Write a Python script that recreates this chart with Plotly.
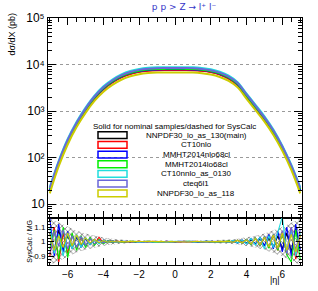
import plotly.graph_objects as go

# ---------------- data ----------------
eta = [-7.0, -6.5, -6.0, -5.5, -5.0, -4.5, -4.0, -3.5, -3.0, -2.5, -2.0, -1.5, -1.0, -0.5, 0.0,
       0.5, 1.0, 1.5, 2.0, 2.5, 3.0, 3.5, 4.0, 4.5, 5.0, 5.5, 6.0, 6.5, 7.0]

pdf_names = ["NNPDF30_lo_as_130(main)", "CT10nlo", "MMHT2014nlo68cl", "MMHT2014lo68cl",
             "CT10nnlo_as_0130", "cteq6l1", "NNPDF30_lo_as_118"]
pdf_colors = ["#000000", "#ff0000", "#0000ff", "#00ee00", "#22dddd", "#6a66d8", "#cccc00"]

xs_nnpdf130 = [20, 75, 220, 520, 1050, 1900, 3000, 4200, 5400, 6400, 7100, 7500, 7700, 7750, 7750,
               7750, 7700, 7450, 7000, 6200, 5100, 3700, 2100, 1200, 680, 350, 160, 62, 20]
xs_ct10nlo = [20, 74, 216, 510, 1030, 1860, 2940, 4120, 5290, 6270, 6960, 7350, 7550, 7600, 7600,
              7600, 7550, 7300, 6860, 6080, 5000, 3630, 2060, 1180, 670, 343, 157, 61, 20]
xs_mmht_nlo = [20, 76, 224, 530, 1070, 1940, 3060, 4280, 5510, 6530, 7240, 7650, 7850, 7900, 7900,
               7900, 7850, 7600, 7140, 6320, 5200, 3770, 2140, 1220, 690, 357, 163, 63, 20]
xs_mmht_lo = [21, 78, 229, 540, 1090, 1980, 3120, 4370, 5620, 6660, 7380, 7800, 8010, 8060, 8060,
              8060, 8010, 7750, 7280, 6450, 5300, 3850, 2180, 1250, 710, 364, 166, 64, 21]
xs_ct10nnlo = [23, 85, 250, 590, 1190, 2150, 3390, 4750, 6100, 7230, 8020, 8480, 8700, 8760, 8760,
               8760, 8700, 8420, 7910, 7010, 5760, 4180, 2370, 1360, 770, 400, 180, 70, 23]
xs_cteq6l1 = [22, 81, 238, 560, 1130, 2050, 3240, 4540, 5830, 6910, 7670, 8100, 8320, 8370, 8370,
              8370, 8320, 8050, 7560, 6700, 5510, 4000, 2270, 1300, 730, 380, 173, 67, 22]
xs_nnpdf118 = [17, 65, 191, 452, 914, 1650, 2610, 3650, 4700, 5570, 6180, 6530, 6700, 6740, 6740,
               6740, 6700, 6480, 6090, 5390, 4440, 3220, 1830, 1040, 590, 305, 139, 54, 17]

# ratio panel (SysCalc / MG)
eta_ratio = [-7.0 + 0.25 * i for i in range(57)]

r_nnpdf130 = ([1.06, 0.93, 1.08, 0.95, 1.04, 0.97, 1.03, 0.98, 1.02, 0.985, 1.012, 0.99, 1.008, 0.995, 1.006, 0.996, 1.004]
              + [0.998, 1.002, 0.999, 1.003, 0.997, 1.001, 1.0, 0.998, 1.002, 0.999, 1.001, 1.0, 0.999, 1.002, 0.998, 1.001, 1.0, 0.997, 1.002, 0.999, 1.001, 0.998, 1.003]
              + [0.996, 1.005, 0.993, 1.008, 0.99, 1.012, 0.985, 1.018, 0.975, 1.025, 0.965, 1.04, 0.95, 1.06, 0.93, 1.09, 0.95])
r_ct10nlo = ([0.9, 1.1, 0.86, 1.06, 0.92, 1.05, 0.95, 1.03, 0.97, 1.02, 0.98, 1.03, 0.99, 1.005, 0.993, 1.006, 0.997]
             + [1.002, 0.998, 1.001, 1.003, 0.999, 0.997, 1.002, 1.0, 0.998, 1.003, 0.999, 1.001, 0.997, 1.002, 1.0, 0.999, 1.003, 0.998, 1.001, 1.0, 0.997, 1.002, 0.999]
             + [1.004, 0.995, 1.01, 0.99, 1.015, 0.983, 1.02, 0.972, 1.03, 0.96, 1.045, 0.94, 1.07, 0.91, 1.1, 0.88, 1.05])
r_mmht_nlo = ([1.16, 0.9, 1.12, 0.93, 1.07, 0.95, 1.04, 0.96, 1.02, 0.98, 1.015, 0.99, 1.01, 0.994, 1.005, 0.997, 1.003]
              + [1.001, 0.999, 1.002, 0.998, 1.0, 1.003, 0.999, 1.001, 0.997, 1.002, 1.0, 0.998, 1.002, 0.999, 1.001, 1.003, 0.998, 1.0, 1.002, 0.997, 1.001, 0.999, 1.002]
              + [0.997, 1.006, 0.99, 1.012, 0.985, 1.02, 0.98, 1.03, 0.97, 1.05, 0.95, 1.07, 0.93, 1.1, 0.9, 1.12, 0.94])
r_mmht_lo = ([0.95, 1.08, 0.88, 1.1, 0.89, 1.06, 0.94, 1.04, 0.96, 1.03, 0.975, 1.015, 0.985, 1.008, 0.993, 1.004, 0.996]
             + [1.0, 1.002, 0.998, 1.001, 0.999, 1.003, 0.997, 1.001, 1.0, 0.998, 1.002, 0.999, 1.001, 0.998, 1.003, 1.0, 0.999, 1.002, 0.998, 1.001, 0.999, 1.002, 1.0]
             + [1.005, 0.994, 1.01, 0.988, 1.016, 0.98, 1.025, 0.97, 1.035, 0.955, 1.05, 0.94, 1.06, 0.91, 0.86, 1.08, 0.88])
r_ct10nnlo = ([1.1, 0.92, 1.05, 0.9, 1.06, 0.95, 1.05, 0.96, 1.03, 0.98, 1.01, 0.985, 1.01, 0.995, 1.004, 0.997, 1.002]
              + [0.999, 1.001, 1.003, 0.998, 1.0, 0.999, 1.002, 0.998, 1.001, 1.0, 0.997, 1.002, 0.999, 1.001, 1.003, 0.998, 1.0, 1.001, 0.999, 1.002, 0.998, 1.0, 1.001]
              + [0.996, 1.008, 0.99, 1.012, 0.984, 1.022, 0.975, 1.03, 0.95, 1.04, 0.96, 1.07, 1.17, 0.92, 1.08, 0.9, 1.06])
r_cteq6l1 = ([0.92, 1.07, 0.97, 1.08, 0.95, 1.04, 0.96, 1.035, 0.975, 1.02, 0.985, 1.01, 0.992, 1.006, 0.996, 1.003, 0.998]
             + [1.002, 0.999, 1.0, 1.002, 0.998, 1.001, 0.999, 1.003, 0.998, 1.0, 1.002, 0.999, 1.001, 1.0, 0.998, 1.002, 0.999, 1.001, 0.997, 1.002, 1.0, 0.999, 1.001]
             + [1.003, 0.994, 1.009, 0.99, 1.014, 0.985, 1.022, 0.975, 1.035, 0.965, 1.05, 0.95, 1.075, 0.92, 1.1, 0.94, 1.08])
r_nnpdf118 = ([1.05, 0.94, 1.04, 0.96, 1.06, 0.97, 1.045, 0.98, 1.025, 0.99, 1.015, 0.993, 1.007, 0.996, 1.004, 0.998, 1.002]
              + [0.999, 1.002, 1.0, 0.998, 1.001, 1.003, 0.999, 1.0, 1.002, 0.998, 1.001, 0.999, 1.002, 1.0, 0.998, 1.001, 1.003, 0.999, 1.0, 0.998, 1.002, 1.001, 0.999]
              + [1.002, 0.996, 1.008, 0.992, 1.012, 0.986, 1.02, 0.978, 1.03, 0.965, 1.045, 0.955, 1.06, 0.94, 1.05, 0.93, 1.04])

band_hi = [1.16, 1.13, 1.10, 1.075, 1.055, 1.04, 1.028, 1.02, 1.014, 1.01, 1.008, 1.007, 1.006, 1.006, 1.006,
           1.006, 1.006, 1.007, 1.008, 1.01, 1.014, 1.02, 1.028, 1.04, 1.055, 1.075, 1.10, 1.13, 1.16]
band_lo = [0.84, 0.87, 0.90, 0.925, 0.945, 0.96, 0.972, 0.98, 0.986, 0.99, 0.992, 0.993, 0.994, 0.994, 0.994,
           0.994, 0.994, 0.993, 0.992, 0.99, 0.986, 0.98, 0.972, 0.96, 0.945, 0.925, 0.90, 0.87, 0.84]

main_series = [xs_nnpdf130, xs_ct10nlo, xs_mmht_nlo, xs_mmht_lo, xs_ct10nnlo, xs_cteq6l1, xs_nnpdf118]
ratio_series = [r_nnpdf130, r_ct10nlo, r_mmht_nlo, r_mmht_lo, r_ct10nnlo, r_cteq6l1, r_nnpdf118]
for s in main_series:
    assert len(s) == len(eta)
for s in ratio_series:
    assert len(s) == len(eta_ratio)

y_tickvals = [10, 100, 1000, 10000, 100000]
y_ticktext = ["10", "10\u00b2", "10\u00b3", "10\u2074", "10\u2075"]
r_tickvals = [0.9, 1.0, 1.1]
r_ticktext = ["0.9", "1", "1.1"]
x_tickvals = [-6, -4, -2, 0, 2, 4, 6]
x_ticktext = ["\u22126", "\u22124", "\u22122", "0", "2", "4", "6"]

# ---------------- figure ----------------
FONT = "Liberation Sans, Arial, Helvetica, sans-serif"
W, H = 318, 291
ML, MR, MT, MB = 48, 16, 11, 25
PW, PH = W - ML - MR, H - MT - MB
split = 49 / PH

fig = go.Figure()

# ratio band (hatched)
fig.add_trace(go.Scatter(x=eta, y=band_hi, xaxis="x2", yaxis="y2", mode="lines",
                         line=dict(width=0, color="black"), showlegend=False, hoverinfo="skip"))
fig.add_trace(go.Scatter(x=eta, y=band_lo, xaxis="x2", yaxis="y2", mode="lines",
                         line=dict(width=0, color="black"), fill="tonexty",
                         fillcolor="rgba(0,0,0,0)",
                         fillpattern=dict(shape="x", fgcolor="#111111", bgcolor="rgba(255,255,255,0)",
                                          size=4, solidity=0.4),
                         showlegend=False, hoverinfo="skip"))

for name, col, ys, rs in zip(pdf_names, pdf_colors, main_series, ratio_series):
    fig.add_trace(go.Scatter(x=eta, y=ys, mode="lines", name=name,
                             line=dict(color=col, width=2, shape="spline"),
                             xaxis="x", yaxis="y", showlegend=False))
    fig.add_trace(go.Scatter(x=eta_ratio, y=rs, mode="lines", name=name,
                             line=dict(color=col, width=1.1),
                             xaxis="x2", yaxis="y2", showlegend=False))

axis_common = dict(showline=True, linecolor="black", linewidth=1, mirror="ticks",
                   ticks="inside", tickcolor="black", zeroline=False)

fig.update_layout(
    width=W, height=H, autosize=False,
    margin=dict(l=ML, r=MR, t=MT, b=MB, pad=0),
    paper_bgcolor="white", plot_bgcolor="white",
    font=dict(family=FONT, color="black"),
    showlegend=False,
    title=dict(text="p p &gt; Z \u2192 l\u207a l\u207b", xref="container", yref="container",
               x=184 / W, y=1 - 6.5 / H, xanchor="center", yanchor="middle",
               font=dict(size=9, color="#3434c8", family="DejaVu Sans, Liberation Sans, sans-serif")),
    xaxis=dict(domain=[0, 1], anchor="y", range=[-7.1, 7.1], tickvals=x_tickvals,
               showticklabels=False, ticklen=7, showgrid=False,
               minor=dict(dtick=0.5, tick0=0, ticks="inside", ticklen=3.5, tickcolor="black", showgrid=False),
               **axis_common),
    yaxis=dict(domain=[split, 1], anchor="x", type="log", range=[0.71, 5.0],
               tickvals=y_tickvals, ticktext=y_ticktext, ticklen=8,
               tickfont=dict(size=12), showgrid=True, gridcolor="#9a9a9a", griddash="dot", gridwidth=1,
               minor=dict(tickvals=[v * m for v in [1, 10, 100, 1000, 10000] for m in range(2, 10)],
                          ticks="inside", ticklen=4, tickcolor="black", showgrid=False),
               **axis_common),
    xaxis2=dict(domain=[0, 1], anchor="y2", matches="x", range=[-7.1, 7.1],
                tickvals=x_tickvals, ticktext=x_ticktext, ticklen=7, tickfont=dict(size=10),
                showgrid=False,
                minor=dict(dtick=0.5, tick0=0, ticks="inside", ticklen=3.5, tickcolor="black", showgrid=False),
                **axis_common),
    yaxis2=dict(domain=[0, split], anchor="x2", range=[0.84, 1.165],
                tickvals=r_tickvals, ticktext=r_ticktext, ticklen=6, tickfont=dict(size=8),
                showgrid=False,
                minor=dict(dtick=0.02, tick0=0.9, ticks="inside", ticklen=3, tickcolor="black", showgrid=False),
                **axis_common),
)

def px2x(px):
    return (px - ML) / PW

def py2y(py):
    return (H - MB - py) / PH

annotations = [
    dict(text="d\u03c3/dX (pb)", x=px2x(12), y=py2y(28), textangle=-90, font=dict(size=9)),
    dict(text="SysCalc / MG", x=px2x(30), y=py2y(242), textangle=-90, font=dict(size=7)),
    dict(text="|\u03b7|", x=px2x(275), y=py2y(282), font=dict(size=9)),
    dict(text="Solid for nominal samples/dashed for SysCalc", x=px2x(174), y=py2y(123),
         font=dict(size=8)),
]
shapes = []
row_y = [132, 142, 152, 162, 172, 182, 192]
for name, col, py in zip(pdf_names, pdf_colors, row_y):
    annotations.append(dict(text=name, x=px2x(196), y=py2y(py), font=dict(size=8)))
    shapes.append(dict(type="rect", xref="paper", yref="paper",
                       x0=px2x(98), x1=px2x(127), y0=py2y(py + 3.5), y1=py2y(py - 3.5),
                       line=dict(color=col, width=1.5), fillcolor="rgba(0,0,0,0)"))

for a in annotations:
    a.update(xref="paper", yref="paper", showarrow=False, xanchor="center", yanchor="middle")

fig.update_layout(annotations=annotations, shapes=shapes)

fig.write_html("out.html", config={"displayModeBar": False},
               post_script="document.body.style.margin='0';")
